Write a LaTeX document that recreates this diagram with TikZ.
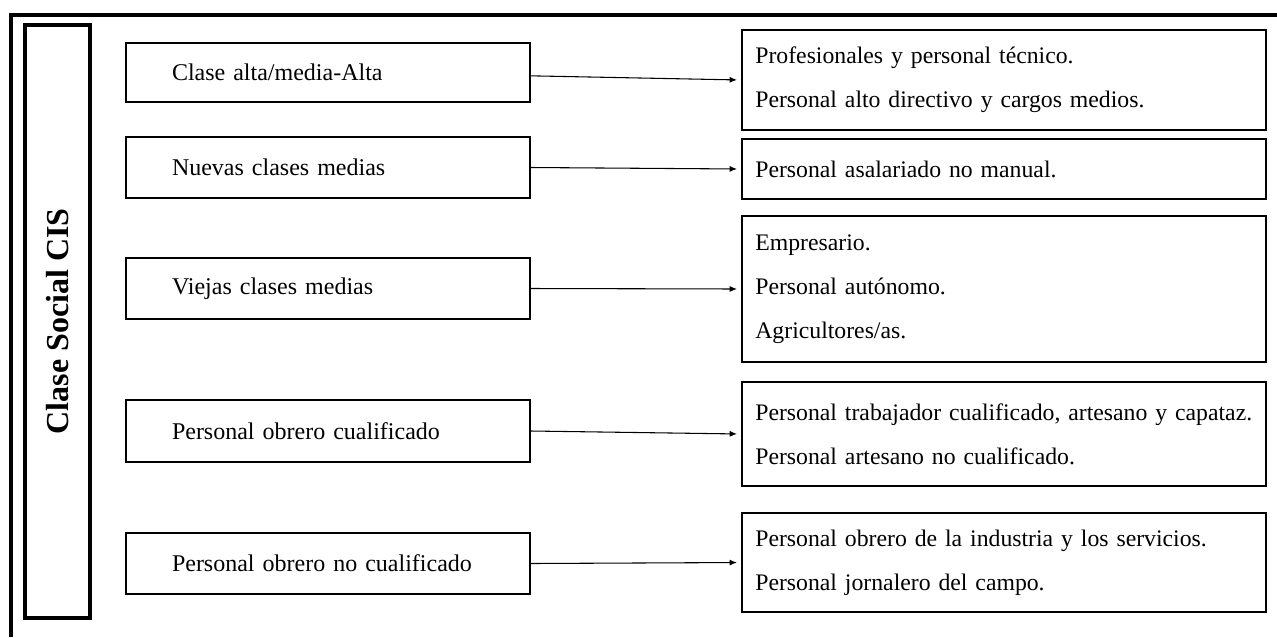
\documentclass[tikz,border=0pt]{standalone}
\usepackage{fontspec}
\setmainfont{Liberation Serif}
\usetikzlibrary{arrows.meta}
\begin{document}
\begin{tikzpicture}[x=0.75pt,y=-0.75pt,
  lbox/.style={draw, line width=1.5pt, minimum width=303pt, inner xsep=34.5pt,
    text width=234pt, align=left, font=\fontsize{18}{33}\selectfont},
  rbox/.style={draw, line width=1.5pt, minimum width=393pt, inner xsep=10pt,
    text width=373pt, align=left, font=\fontsize{17.8}{33}\selectfont},
  sidebox/.style={draw, line width=3pt, minimum width=48.75pt, minimum height=444.75pt},
  conn/.style={line width=0.8pt, -{Latex[length=5.5pt,width=4.5pt]}, shorten >=3pt}
]
\useasboundingbox (0,0) rectangle (1277,637);
% outer frame (partly visible)
\draw[line width=3pt] (11,637) -- (11,15) -- (1277,15);
% side box
\node[sidebox] (side) at (57.5,321.5) {};
\node[rotate=90, font=\bfseries\fontsize{24}{28}\selectfont] (sidet) at (side.center) {Clase Social CIS};
% left boxes
\node[lbox, minimum height=44.25pt] (b1) at (328,72.5) {Clase alta/media-Alta};
\node[lbox, minimum height=45.75pt] (b2) at (328,167.5) {Nuevas clases medias};
\node[lbox, minimum height=45.75pt] (b3) at (328,288.5) {Viejas clases medias};
\node[lbox, minimum height=46.5pt] (b4) at (328,431) {Personal obrero cualificado};
\node[lbox, minimum height=45.75pt] (b5) at (328,563.5) {Personal obrero no cualificado};
% right boxes
\node[rbox, minimum height=75pt] (r1) at (1004,80) {Profesionales y personal técnico.\\Personal alto directivo y cargos medios.};
\node[rbox, minimum height=45pt] (r2) at (1004,169) {Personal asalariado no manual.};
\node[rbox, minimum height=109.5pt] (r3) at (1004,289) {Empresario.\\Personal autónomo.\\Agricultores/as.};
\node[rbox, minimum height=78pt] (r4) at (1004,434) {Personal trabajador cualificado, artesano y capataz.\\Personal artesano no cualificado.};
\node[rbox, minimum height=74.25pt] (r5) at (1004,562.5) {Personal obrero de la industria y los servicios.\\Personal jornalero del campo.};
% connectors
\draw[conn] ([yshift=-2.5pt]b1.east) -- (r1.west);
\draw[conn] (b2.east) -- (r2.west);
\draw[conn] (b3.east) -- (r3.west);
\draw[conn] (b4.east) -- (r4.west);
\draw[conn] (b5.east) -- (r5.west);
\end{tikzpicture}
\end{document}
